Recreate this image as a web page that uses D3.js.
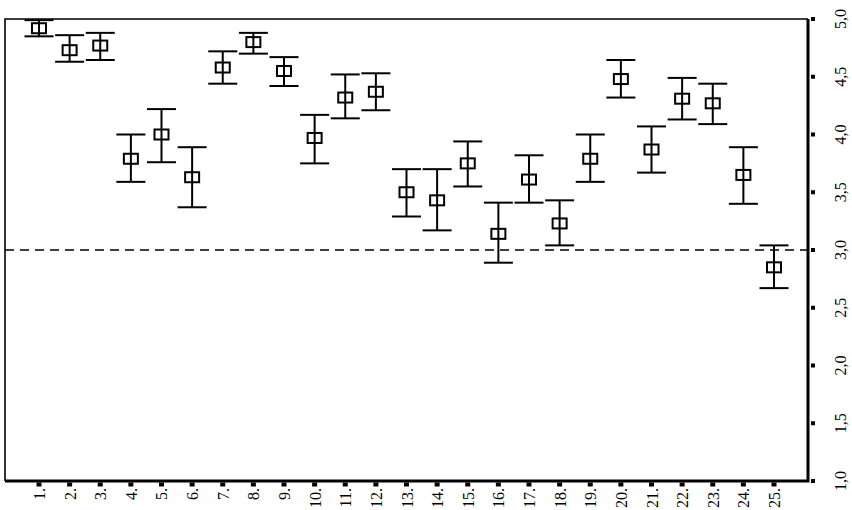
<!DOCTYPE html>
<html>
<head>
<meta charset="utf-8">
<script src="https://cdn.jsdelivr.net/npm/d3@7"></script>
<style>
  body { margin: 0; background: #fff; }
  text { font-family: "Liberation Serif", "DejaVu Serif", serif; fill: #000; }
</style>
</head>
<body>
<svg width="852" height="510"></svg>
<script>
// items 1..25, mean with lower / upper whisker
var items = d3.range(1, 26).map(function(i) { return i + '.'; });
var means = [4.92, 4.73, 4.77, 3.79, 4.00, 3.63, 4.58, 4.80, 4.55, 3.97,
             4.32, 4.37, 3.50, 3.43, 3.75, 3.14, 3.61, 3.23, 3.79, 4.48,
             3.87, 4.31, 4.27, 3.65, 2.85];
var lower = [4.85, 4.63, 4.645, 3.59, 3.76, 3.37, 4.44, 4.70, 4.42, 3.75,
             4.14, 4.21, 3.29, 3.17, 3.55, 2.89, 3.41, 3.04, 3.59, 4.32,
             3.67, 4.13, 4.09, 3.40, 2.67];
var upper = [4.99, 4.86, 4.88, 4.00, 4.22, 3.89, 4.72, 4.88, 4.67, 4.17,
             4.52, 4.53, 3.70, 3.70, 3.94, 3.41, 3.82, 3.43, 4.00, 4.645,
             4.07, 4.49, 4.44, 3.89, 3.04];
var yTicks = [1.0, 1.5, 2.0, 2.5, 3.0, 3.5, 4.0, 4.5, 5.0];
var refValue = 3.0;

var svg = d3.select('svg'),
  x0 = 5, x1 = 808, y0 = 19, y1 = 481;

var x = d3.scalePoint().domain(items).range([x0, x1]).padding(1.11);
var y = d3.scaleLinear().domain([1, 5]).range([y1, y0]);
var fmt = function(v) { return d3.format('.1f')(v).replace('.', ','); };

// frame: thin left/top, heavy right/bottom
svg.append('path')
  .attr('d', 'M' + x1 + ',' + y0 + 'H' + x0 + 'V' + y1)
  .attr('fill', 'none').attr('stroke', '#000').attr('stroke-width', 1.6);
svg.append('path')
  .attr('d', 'M' + x0 + ',' + y1 + 'H' + x1 + 'V' + y0)
  .attr('fill', 'none').attr('stroke', '#000').attr('stroke-width', 3);

// reference line
svg.append('line')
  .attr('x1', x0).attr('x2', x1)
  .attr('y1', y(refValue)).attr('y2', y(refValue))
  .attr('stroke', '#000').attr('stroke-width', 1.5)
  .attr('stroke-dasharray', '9,6');

// bottom ticks + labels
svg.selectAll('.xt').data(items).enter().append('rect')
  .attr('x', function(d) { return x(d) - 2.5; })
  .attr('y', y1 + 1.5)
  .attr('width', 5).attr('height', 4)
  .attr('fill', '#000');
svg.selectAll('.xl').data(items).enter().append('text')
  .attr('transform', function(d) {
    return 'translate(' + (x(d) + 6) + ',' + (y1 + 7) + ') rotate(-90)';
  })
  .attr('text-anchor', 'end')
  .style('font-size', '16px')
  .text(function(d) { return d; });

// right ticks + labels
svg.selectAll('.yt').data(yTicks).enter().append('rect')
  .attr('x', x1 + 3)
  .attr('y', function(d) { return y(d) - 2; })
  .attr('width', 4).attr('height', 4)
  .attr('fill', '#000');
svg.selectAll('.yl').data(yTicks).enter().append('text')
  .attr('transform', function(d) {
    return 'translate(' + 846 + ',' + y(d) + ') rotate(-90)';
  })
  .attr('text-anchor', 'middle')
  .style('font-size', '16px')
  .text(fmt);

// error bars
var g = svg.append('g').attr('stroke', '#000').attr('stroke-width', 2).attr('fill', 'none');
var bars = g.selectAll('g').data(items).enter().append('g');
bars.append('line')
  .attr('x1', function(d) { return x(d); }).attr('x2', function(d) { return x(d); })
  .attr('y1', function(d, i) { return y(upper[i]); })
  .attr('y2', function(d, i) { return y(lower[i]); });
bars.selectAll('.cap')
  .data(function(d, i) { return [[d, upper[i]], [d, lower[i]]]; })
  .enter().append('line')
  .attr('x1', function(c) { return x(c[0]) - 14.5; })
  .attr('x2', function(c) { return x(c[0]) + 14.5; })
  .attr('y1', function(c) { return y(c[1]); })
  .attr('y2', function(c) { return y(c[1]); });
bars.append('rect')
  .attr('x', function(d) { return x(d) - 7; })
  .attr('y', function(d, i) { return y(means[i]) - 5; })
  .attr('width', 14).attr('height', 10);
</script>
</body>
</html>
